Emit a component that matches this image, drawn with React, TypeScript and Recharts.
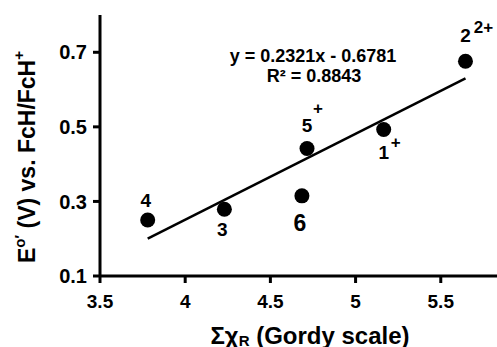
import { ScatterChart, Scatter, XAxis, YAxis, Label } from "recharts";

// compounds 1-6
const compounds = ["1", "2", "3", "4", "5", "6"];
const charges = ["+", "2+", "", "", "+", ""];
const sumChi = [5.165, 5.645, 4.23, 3.78, 4.715, 4.685];
const e0 = [0.493, 0.676, 0.279, 0.25, 0.442, 0.315];

// linear fit, drawn between first and last compound
const trendX = [3.78, 5.645];
const trendY = [0.2, 0.63];

const xTicks = [3.5, 4, 4.5, 5, 5.5];
const yTicks = [0.1, 0.3, 0.5, 0.7];

const points = compounds.map((c, i) => ({
  x: sumChi[i],
  y: e0[i],
  name: c,
  charge: charges[i],
}));
const trend = trendX.map((x, i) => ({ x, y: trendY[i] }));

// where each compound label sits relative to its dot
const PLACE: Record<string, { dx: number; dy: number; sx?: number; sy?: number; size?: number }> = {
  "1": { dx: 0, dy: 23, sx: 12, sy: 13 },
  "2": { dx: 0, dy: -26, sx: 18, sy: -34 },
  "3": { dx: -2, dy: 20 },
  "4": { dx: -2, dy: -20 },
  "5": { dx: 0, dy: -23, sx: 11, sy: -40 },
  "6": { dx: -2, dy: 27, size: 23 },
};

const FONT = "'Liberation Sans', Arial, sans-serif";

function Dot(props: any) {
  const { cx, cy, payload } = props;
  const p = PLACE[payload.name];
  return (
    <g>
      <circle cx={cx} cy={cy} r={7.5} fill="#000" />
      <text
        x={cx + p.dx}
        y={cy + p.dy}
        textAnchor="middle"
        dominantBaseline="central"
        fontFamily={FONT}
        fontSize={p.size ?? 19}
        fontWeight="bold"
        fill="#000"
      >
        {payload.name}
      </text>
      {payload.charge && (
        <text
          x={cx + (p.sx ?? 0)}
          y={cy + (p.sy ?? 0)}
          textAnchor="middle"
          dominantBaseline="central"
          fontFamily={FONT}
          fontSize={17}
          fontWeight="bold"
          fill="#000"
        >
          {payload.charge}
        </text>
      )}
    </g>
  );
}

const xTickStyle = { fontSize: 19, fontWeight: "bold", fill: "#000", fontFamily: FONT };
const yTickStyle = { fontSize: 20, fontWeight: "bold", fill: "#000", fontFamily: FONT };

export default function App() {
  return (
    <div style={{ position: "absolute", left: 0, top: 0, background: "#fff" }}>
      <ScatterChart width={497} height={347} margin={{ top: 15, right: 0, bottom: 0, left: 0 }}>
        <XAxis
          type="number"
          dataKey="x"
          domain={[3.5, 5.83]}
          ticks={xTicks}
          allowDataOverflow
          height={71}
          axisLine={{ stroke: "#000", strokeWidth: 3 }}
          tickLine={{ stroke: "#000", strokeWidth: 3 }}
          tickSize={7}
          tick={xTickStyle}
          tickMargin={12}
        >
          <Label
            content={() => (
              <text
                x={310}
                y={335}
                textAnchor="middle"
                dominantBaseline="central"
                fontFamily={FONT}
                fontSize={24}
                fontWeight="bold"
                fill="#000"
              >
                Σχ
                <tspan fontSize={15} dy={5}>R</tspan>
                <tspan dy={-5}> (Gordy scale)</tspan>
              </text>
            )}
          />
        </XAxis>
        <YAxis
          type="number"
          dataKey="y"
          domain={[0.1, 0.8]}
          ticks={yTicks}
          width={100}
          axisLine={{ stroke: "#000", strokeWidth: 3 }}
          tickLine={{ stroke: "#000", strokeWidth: 3 }}
          tickSize={7}
          tick={yTickStyle}
          tickMargin={6}
        >
          <Label
            content={() => (
              <text
                transform="translate(27,157) rotate(-90)"
                textAnchor="middle"
                dominantBaseline="central"
                fontFamily={FONT}
                fontSize={23}
                fontWeight="bold"
                fill="#000"
              >
                E
                <tspan fontSize={15} dy={-8}>o′</tspan>
                <tspan dy={8}> (V) vs. FcH/FcH</tspan>
                <tspan fontSize={15} dy={-9}>+</tspan>
              </text>
            )}
          />
        </YAxis>
        <Scatter
          data={trend}
          line={{ stroke: "#000", strokeWidth: 2.5 }}
          shape={() => <g />}
          isAnimationActive={false}
        />
        <Scatter data={points} shape={<Dot />} isAnimationActive={false} />
        <text
          x={313}
          y={56}
          textAnchor="middle"
          dominantBaseline="central"
          fontFamily={FONT}
          fontSize={18}
          fontWeight="bold"
          fill="#000"
        >
          y = 0.2321x - 0.6781
        </text>
        <text
          x={314}
          y={76}
          textAnchor="middle"
          dominantBaseline="central"
          fontFamily={FONT}
          fontSize={18}
          fontWeight="bold"
          fill="#000"
        >
          R² = 0.8843
        </text>
      </ScatterChart>
    </div>
  );
}
